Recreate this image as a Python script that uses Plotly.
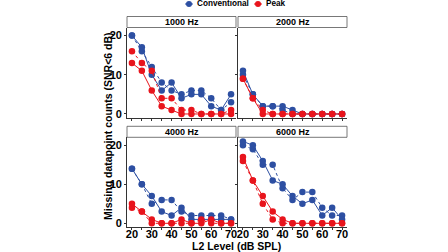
import plotly.graph_objects as go

levels = [20, 25, 30, 35, 40, 45, 50, 55, 60, 65, 70]
panels = ["1000 Hz", "2000 Hz", "4000 Hz", "6000 Hz"]

conv_solid = {
    "1000 Hz": [20, 17, 10, 6, 8, 4, 5, 5, 2, 1, 5],
    "2000 Hz": [11, 5, 2, 2, 2, 1, 0, 0, 0, 0, 0],
    "4000 Hz": [14, 10, 7, 3, 2, 4, 1, 1, 1, 1, 1],
    "6000 Hz": [21, 20, 16, 11, 10, 7, 5, 6, 2, 4, 1],
}
conv_dot = {
    "1000 Hz": [20, 16, 12, 8, 6, 5, 6, 6, 4, 1, 3],
    "2000 Hz": [10, 5, 2, 2, 1, 0, 0, 0, 0, 0, 0],
    "4000 Hz": [14, 10, 5, 6, 6, 3, 2, 2, 2, 2, 1],
    "6000 Hz": [20, 19, 15, 15, 9, 6, 8, 8, 4, 2, 2],
}
peak_solid = {
    "1000 Hz": [13, 11, 6, 2, 1, 0, 0, 0, 0, 0, 0],
    "2000 Hz": [9, 4, 0, 0, 0, 0, 0, 0, 0, 0, 0],
    "4000 Hz": [5, 3, 1, 0, 0, 1, 0, 0, 1, 0, 0],
    "6000 Hz": [17, 11, 7, 3, 1, 0, 0, 0, 0, 0, 0],
}
peak_dot = {
    "1000 Hz": [16, 13, 11, 4, 4, 1, 1, 0, 0, 0, 1],
    "2000 Hz": [9, 4, 1, 0, 0, 0, 0, 0, 0, 0, 0],
    "4000 Hz": [4, 3, 0, 0, 0, 0, 0, 1, 0, 0, 0],
    "6000 Hz": [16, 11, 5, 1, 0, 0, 0, 0, 0, 0, 0],
}
legend_labels = ["Conventional", "Peak"]

BLUE = "#2D4FA2"
RED = "#E8141C"
FONT = "Liberation Sans, Arial, sans-serif"
W, H = 448, 252

def px_x(p):
    return p / W

def px_y(p):
    return 1 - p / H

# panel boxes in pixels: (left, right, top, bottom)
boxes = [(127, 236, 27.5, 118.1), (238, 347, 27.5, 118.1),
         (127, 236, 137.3, 227.4), (238, 347, 137.3, 227.4)]
strip_h = 11

fig = go.Figure()
layout = dict(
    width=W, height=H, margin=dict(l=0, r=0, t=0, b=0, autoexpand=False),
    paper_bgcolor="white", plot_bgcolor="white",
    font=dict(family=FONT, color="black"),
    showlegend=False,
)
shapes = []
annotations = []

for i, name in enumerate(panels):
    k = "" if i == 0 else str(i + 1)
    xa, ya = "x" + k, "y" + k
    l, r, t, b = boxes[i]
    for vals, color, dash in [(conv_dot[name], BLUE, "dot"), (conv_solid[name], BLUE, "solid"),
                              (peak_dot[name], RED, "dot"), (peak_solid[name], RED, "solid")]:
        fig.add_trace(go.Scatter(
            x=levels, y=vals, mode="lines+markers", xaxis=xa, yaxis=ya,
            line=dict(color=color, width=1, dash=dash),
            marker=dict(color=color, size=6.5),
            showlegend=False, hoverinfo="skip"))
    left_col = i in (0, 2)
    bottom_row = i in (2, 3)
    layout["xaxis" + k] = dict(
        domain=[px_x(l), px_x(r)], anchor=ya, range=[17.5, 72.5],
        tickvals=[20, 30, 40, 50, 60, 70], showticklabels=bottom_row,
        ticks="outside", ticklen=2, tickcolor="#333", showline=True,
        linecolor="#333", linewidth=0.8, showgrid=False, zeroline=False,
        automargin=False, ticklabelstandoff=-6,
        tickfont=dict(size=11, family=FONT, weight="bold"),
        minor=dict(tickvals=[25, 35, 45, 55, 65], ticks="outside", ticklen=2, tickcolor="#333"),
    )
    layout["yaxis" + k] = dict(
        domain=[px_y(b), px_y(t)], anchor=xa, range=[-1.05, 22.05],
        tickvals=[0, 10, 20], showticklabels=left_col,
        ticks="outside", ticklen=2, tickcolor="#333", showline=True,
        linecolor="#333", linewidth=0.8, showgrid=False, zeroline=False,
        automargin=False,
        tickfont=dict(size=11, family=FONT, weight="bold"),
    )
    shapes.append(dict(type="rect", xref="paper", yref="paper",
                       x0=px_x(l), x1=px_x(r), y0=px_y(t), y1=px_y(t - strip_h),
                       line=dict(color="#555", width=0.8), fillcolor="white"))
    annotations.append(dict(text=name, xref="paper", yref="paper",
                            x=(px_x(l) + px_x(r)) / 2, y=px_y(t - strip_h / 2),
                            xanchor="center", yanchor="middle", showarrow=False,
                            font=dict(size=9, family=FONT, weight="bold")))

# manual legend (keys + labels)
for label, color, kx in [(legend_labels[0], BLUE, 189), (legend_labels[1], RED, 258)]:
    shapes.append(dict(type="line", xref="paper", yref="paper",
                       x0=px_x(kx - 4), x1=px_x(kx + 4), y0=px_y(4), y1=px_y(4),
                       line=dict(color=color, width=1)))
    shapes.append(dict(type="circle", xref="paper", yref="paper",
                       x0=px_x(kx - 3), x1=px_x(kx + 3), y0=px_y(7), y1=px_y(1),
                       line=dict(color=color, width=0), fillcolor=color))
    annotations.append(dict(text=label, xref="paper", yref="paper",
                            x=px_x(kx + 6), y=px_y(4), xanchor="left", yanchor="middle",
                            showarrow=False,
                            font=dict(size=8.2, family=FONT, weight="bold")))

annotations.append(dict(text="Missing datapoint counts (SNR<6 dB)", xref="paper", yref="paper",
                        x=px_x(108), y=px_y(126), textangle=-90, showarrow=False,
                        xanchor="center", yanchor="middle",
                        font=dict(size=10.5, family=FONT, weight="bold")))
annotations.append(dict(text="L2 Level (dB SPL)", xref="paper", yref="paper",
                        x=px_x(237), y=px_y(245.5), showarrow=False,
                        xanchor="center", yanchor="middle",
                        font=dict(size=10.5, family=FONT, weight="bold")))

layout["shapes"] = shapes
layout["annotations"] = annotations
fig.update_layout(**layout)
fig.write_html("out.html", config={"displayModeBar": False},
               post_script="document.body.style.margin='0';document.body.style.overflow='hidden';")
